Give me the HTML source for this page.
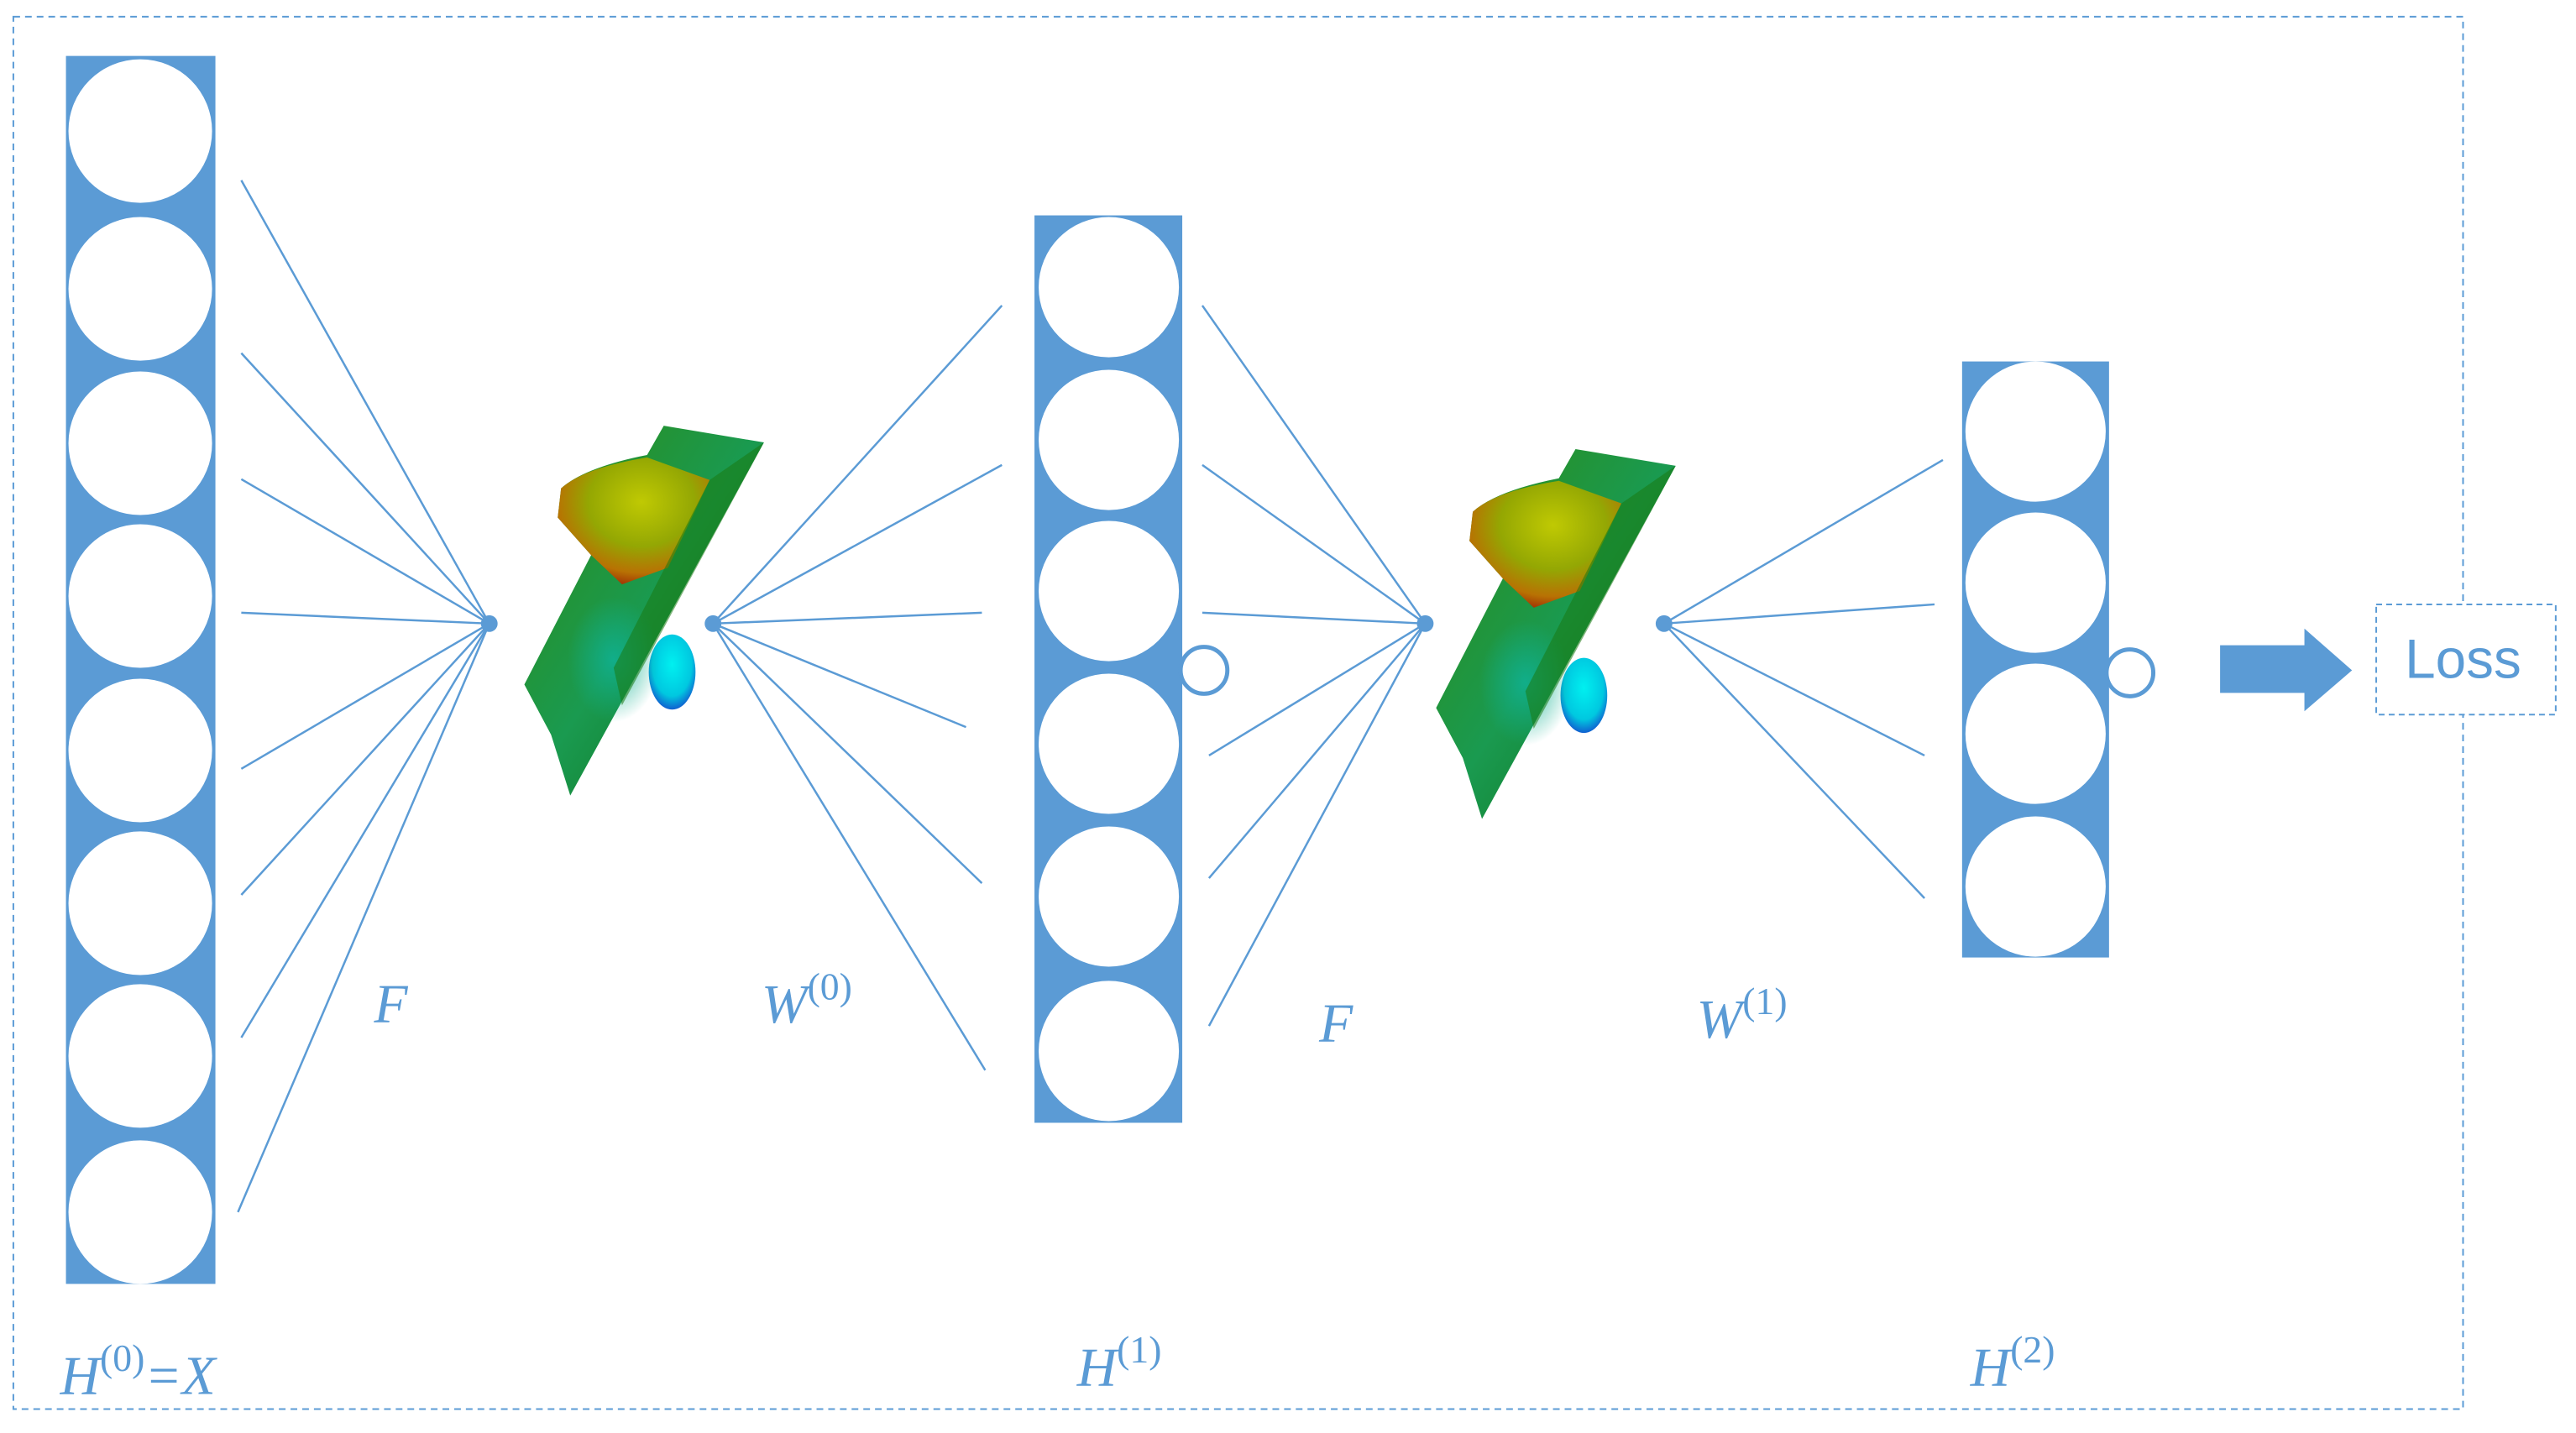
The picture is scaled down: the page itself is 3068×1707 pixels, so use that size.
<!DOCTYPE html>
<html><head><meta charset="utf-8"><style>
html,body{margin:0;padding:0;background:#fff;}
svg{display:block}
text{font-family:"Liberation Serif",serif;font-style:italic;fill:#5b9bd5;}
</style></head><body>
<svg width="3068" height="1707" viewBox="0 0 3068 1707" xmlns="http://www.w3.org/2000/svg">
<defs>
<linearGradient id="rib" x1="0" y1="0" x2="1" y2="1">
<stop offset="0" stop-color="#2e8a12"/><stop offset="0.5" stop-color="#1a9a50"/><stop offset="1" stop-color="#0d6a10"/>
</linearGradient>
<radialGradient id="yel" cx="0.55" cy="0.35" r="0.7">
<stop offset="0" stop-color="#c8cc00"/><stop offset="0.5" stop-color="#9aa800"/><stop offset="0.8" stop-color="#c07000"/><stop offset="1" stop-color="#a01800"/>
</radialGradient>
<radialGradient id="cyn" cx="0.5" cy="0.4" r="0.6">
<stop offset="0" stop-color="#00f0f0"/><stop offset="0.7" stop-color="#00c8e0"/><stop offset="1" stop-color="#1060d0"/>
</radialGradient>
<radialGradient id="teal" cx="0.5" cy="0.5" r="0.5">
<stop offset="0" stop-color="#10b090" stop-opacity="0.9"/><stop offset="1" stop-color="#10b090" stop-opacity="0"/>
</radialGradient>
<g id="surf">
<ellipse cx="805" cy="805" rx="28" ry="45" fill="url(#cyn)"/>
<path d="M795,510 L915,530 L683,953 L660,880 L628,820 L708,665 L668,620 L672,585 Q700,560 775,545 Z" fill="url(#rib)"/>
<path d="M672,585 Q700,560 775,548 L850,575 L800,680 L745,700 L708,665 L668,620 Z" fill="url(#yel)" opacity="0.95"/>
<ellipse cx="735" cy="790" rx="55" ry="75" fill="url(#teal)"/>
<path d="M850,575 L915,530 L745,845 L735,800 Z" fill="#1a7a12" opacity="0.55"/>
</g>
</defs>
<g transform="scale(0.9944)">
<rect x="16" y="20" width="2934" height="1668" fill="none" stroke="#5b9bd5" stroke-width="2" stroke-dasharray="8 6"/>

<g fill="#5b9bd5">
<rect x="79" y="67" width="179" height="1471"/>
<rect x="1239" y="258" width="177" height="1087"/>
<rect x="2350" y="433" width="176" height="714"/>
</g>
<g fill="#fff">
<circle cx="168" cy="157" r="86"/><circle cx="168" cy="346" r="86"/><circle cx="168" cy="531" r="86"/><circle cx="168" cy="714" r="86"/>
<circle cx="168" cy="899" r="86"/><circle cx="168" cy="1082" r="86"/><circle cx="168" cy="1265" r="86"/><circle cx="168" cy="1452" r="86"/>
<circle cx="1328" cy="344" r="84"/><circle cx="1328" cy="527" r="84"/><circle cx="1328" cy="708" r="84"/><circle cx="1328" cy="891" r="84"/><circle cx="1328" cy="1074" r="84"/><circle cx="1328" cy="1259" r="84"/>
<circle cx="2438" cy="517" r="84"/><circle cx="2438" cy="698" r="84"/><circle cx="2438" cy="879" r="84"/><circle cx="2438" cy="1062" r="84"/>
</g>
<circle cx="1442" cy="803" r="28" fill="#fff" stroke="#5b9bd5" stroke-width="5"/>
<circle cx="2551" cy="806" r="28" fill="#fff" stroke="#5b9bd5" stroke-width="5"/>

<g stroke="#5b9bd5" stroke-width="2.5">
<line x1="586" y1="747" x2="289" y2="216"/><line x1="586" y1="747" x2="289" y2="423"/><line x1="586" y1="747" x2="289" y2="574"/><line x1="586" y1="747" x2="289" y2="734"/>
<line x1="586" y1="747" x2="289" y2="921"/><line x1="586" y1="747" x2="289" y2="1072"/><line x1="586" y1="747" x2="289" y2="1243"/><line x1="586" y1="747" x2="285" y2="1452"/>
<line x1="854" y1="747" x2="1200" y2="366"/><line x1="854" y1="747" x2="1200" y2="557"/><line x1="854" y1="747" x2="1176" y2="734"/><line x1="854" y1="747" x2="1157" y2="871"/><line x1="854" y1="747" x2="1176" y2="1058"/><line x1="854" y1="747" x2="1180" y2="1282"/>
<line x1="1707" y1="747" x2="1440" y2="366"/><line x1="1707" y1="747" x2="1440" y2="557"/><line x1="1707" y1="747" x2="1440" y2="734"/><line x1="1707" y1="747" x2="1448" y2="905"/><line x1="1707" y1="747" x2="1448" y2="1052"/><line x1="1707" y1="747" x2="1448" y2="1229"/>
<line x1="1993" y1="747" x2="2327" y2="551"/><line x1="1993" y1="747" x2="2317" y2="724"/><line x1="1993" y1="747" x2="2305" y2="905"/><line x1="1993" y1="747" x2="2305" y2="1076"/>
</g>
<g fill="#5b9bd5">
<circle cx="586" cy="747" r="10"/><circle cx="854" cy="747" r="10"/><circle cx="1707" cy="747" r="10"/><circle cx="1993" cy="747" r="10"/>
</g>

<use href="#surf"/>
<use href="#surf" transform="translate(1092,28)"/>

<path d="M2659,773 L2760,773 L2760,753 L2817,803 L2760,852 L2760,830 L2659,830 Z" fill="#5b9bd5"/>
<rect x="2846" y="724" width="215" height="132" fill="#fff" stroke="#5b9bd5" stroke-width="2" stroke-dasharray="7 5"/>
<text x="2950" y="812" text-anchor="middle" style="font-family:'Liberation Sans',sans-serif;font-style:normal;font-size:66px">Loss</text>

<text x="448" y="1225" font-size="66">F</text>
<text x="912" y="1225" font-size="66">W<tspan font-size="46" dy="-28" font-style="normal">(0)</tspan></text>
<text x="1580" y="1248" font-size="66">F</text>
<text x="2032" y="1243" font-size="66">W<tspan font-size="46" dy="-28" font-style="normal">(1)</tspan></text>
<text x="72" y="1670" font-size="66">H<tspan font-size="46" dy="-28" font-style="normal">(0)</tspan><tspan dy="28">=X</tspan></text>
<text x="1290" y="1660" font-size="66">H<tspan font-size="46" dy="-28" font-style="normal">(1)</tspan></text>
<text x="2360" y="1660" font-size="66">H<tspan font-size="46" dy="-28" font-style="normal">(2)</tspan></text>
</g>
</svg>
</body></html>
